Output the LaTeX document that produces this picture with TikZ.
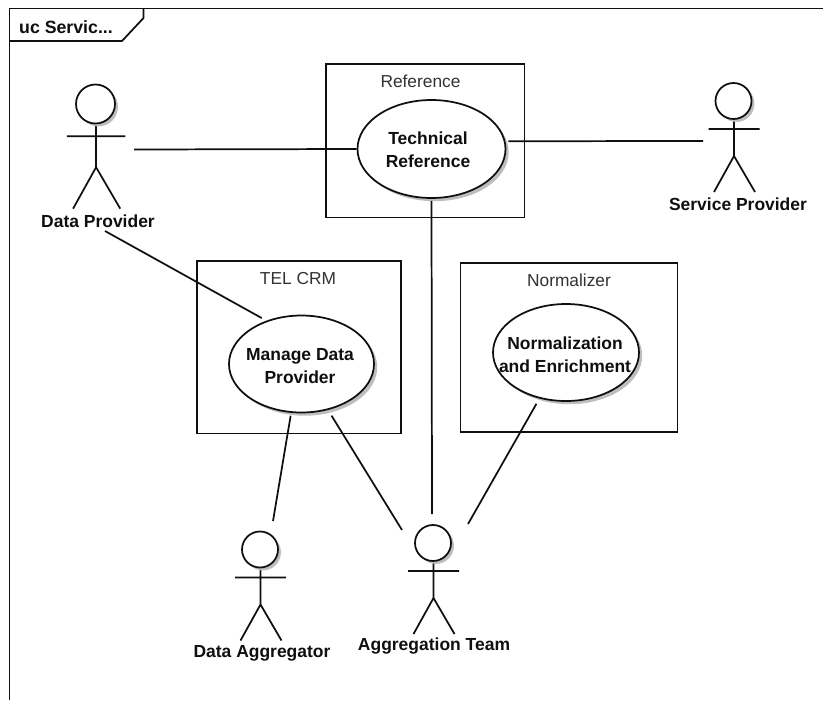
\documentclass[tikz,border=0pt]{standalone}
\usepackage{fontspec}
\setmainfont{Liberation Sans}
\usetikzlibrary{shadows,shapes.geometric}
\definecolor{inkline}{RGB}{15,15,15}
\definecolor{shadowgrey}{RGB}{190,190,190}
\newcommand{\pxfont}[1]{\fontsize{#1}{#1}\selectfont}
\tikzset{
  lineart/.style={draw=inkline,line width=1.3pt},
  frameline/.style={lineart},
  tabtext/.style={font=\pxfont{13.3}\bfseries,text=inkline,inner sep=0pt},
  sysbox/.style={lineart,fill=white,general shadow={fill=black!12,shadow xshift=0.5pt,shadow yshift=-0.5pt},inner sep=0pt,anchor=north west},
  systitle/.style={font=\pxfont{13},text=inkline!85,inner sep=0pt},
  usecase/.style={ellipse,lineart,fill=white,inner sep=0pt,
    general shadow={fill=shadowgrey,shadow xshift=2.4pt,shadow yshift=-2.4pt}},
  casetext/.style={font=\pxfont{13.1}\bfseries,text=inkline,inner sep=0pt,align=center},
  actorhead/.style={circle,lineart,fill=white,inner sep=0pt,
    general shadow={fill=shadowgrey,shadow xshift=2.2pt,shadow yshift=-2.2pt}},
  actorlabel/.style={font=\pxfont{13.1}\bfseries,text=inkline,inner sep=0pt},
  link/.style={lineart}
}
% name, head x, head y, scale, head diameter (px), label x, label y, text
\newcommand{\actorfig}[8]{%
  \begin{scope}[shift={(#2,#3)},scale=#4]
    \draw[lineart] (0.5,18)--(0.5,55) (-25,28)--(26,28) (-19.5,91)--(0.5,55)--(21.5,91);
    \node[actorhead,minimum size=#5*0.75pt] (#1) at (0,0) {};
  \end{scope}
  \node[actorlabel] (#1label) at (#6,#7) {#8};
}
\begin{document}
\begin{tikzpicture}[x=0.75pt,y=-0.75pt]
\useasboundingbox (0,0) rectangle (823,700);
\fill[white] (0,0) rectangle (823,700);
% frame
\draw[frameline] (9.5,700)--(9.5,8.5)--(823,8.5);
\draw[frameline] (9.5,41)--(122,41)--(143.5,18)--(143.5,8.5);
\node[tabtext] (tab) at (66,27) {uc Servic...};
% system boxes
\node[sysbox,minimum width=198.5*0.75pt,minimum height=153.5*0.75pt] (refbox) at (325,63) {};
\node[sysbox,minimum width=204*0.75pt,minimum height=172.5*0.75pt] (crmbox) at (196,260) {};
\node[sysbox,minimum width=217*0.75pt,minimum height=169*0.75pt] (normbox) at (459.5,262) {};
\node[systitle] (reftitle) at (420.5,81) {Reference};
\node[systitle] (crmtitle) at (298,279) {TEL CRM};
\node[systitle] (normtitle) at (569,280) {Normalizer};
% actors
\actorfig{dp}{95.5}{104}{1.15}{39}{98}{221}{Data Provider}
\actorfig{sp}{733.5}{101}{1}{36}{738}{204}{Service Provider}
\actorfig{da}{260}{549.5}{1}{36}{262}{653}{Data Aggregator}
\actorfig{at}{433}{543}{1}{36}{434}{646}{Aggregation Team}
% free connector ends beside the actors
\coordinate (dpEast) at (134,149.5);
\coordinate (dpSouth) at (105,231);
\coordinate (spWest) at (703,141);
\coordinate (daNorth) at (273,521);
\coordinate (atNorth) at (432,514);
\coordinate (atNW) at (402,530);
\coordinate (atNE) at (468,524);
% use cases
\node[usecase,minimum width=148*0.75pt,minimum height=98*0.75pt] (tech) at (431.5,149) {};
\node[usecase,minimum width=145*0.75pt,minimum height=97*0.75pt] (mgmt) at (301.5,364) {};
\node[usecase,minimum width=146*0.75pt,minimum height=97*0.75pt] (enrich) at (566,352.5) {};
\node[casetext] (techtext) at (428,150) {Technical\\[4.5pt]Reference};
\node[casetext] (mgmttext) at (300,366) {Manage Data\\[4.5pt]Provider};
\node[casetext] (enrichtext) at (565,355) {Normalization\\[4.5pt]and Enrichment};
% connectors
\draw[link] (dpEast) -- (tech.180);
\draw[link,shorten <=2.2pt] (tech.6) -- (spWest);
\draw[link,shorten <=1.5pt] (tech.270) -- (atNorth);
\draw[link,shorten >=4pt] (dpSouth) -- (mgmt.129);
\draw[link,shorten <=2.2pt] (mgmt.258) -- (daNorth);
\draw[link,shorten <=5pt] (mgmt.300) -- (atNW);
\draw[link,shorten <=4.5pt] (enrich.240) -- (atNE);
\end{tikzpicture}
\end{document}
